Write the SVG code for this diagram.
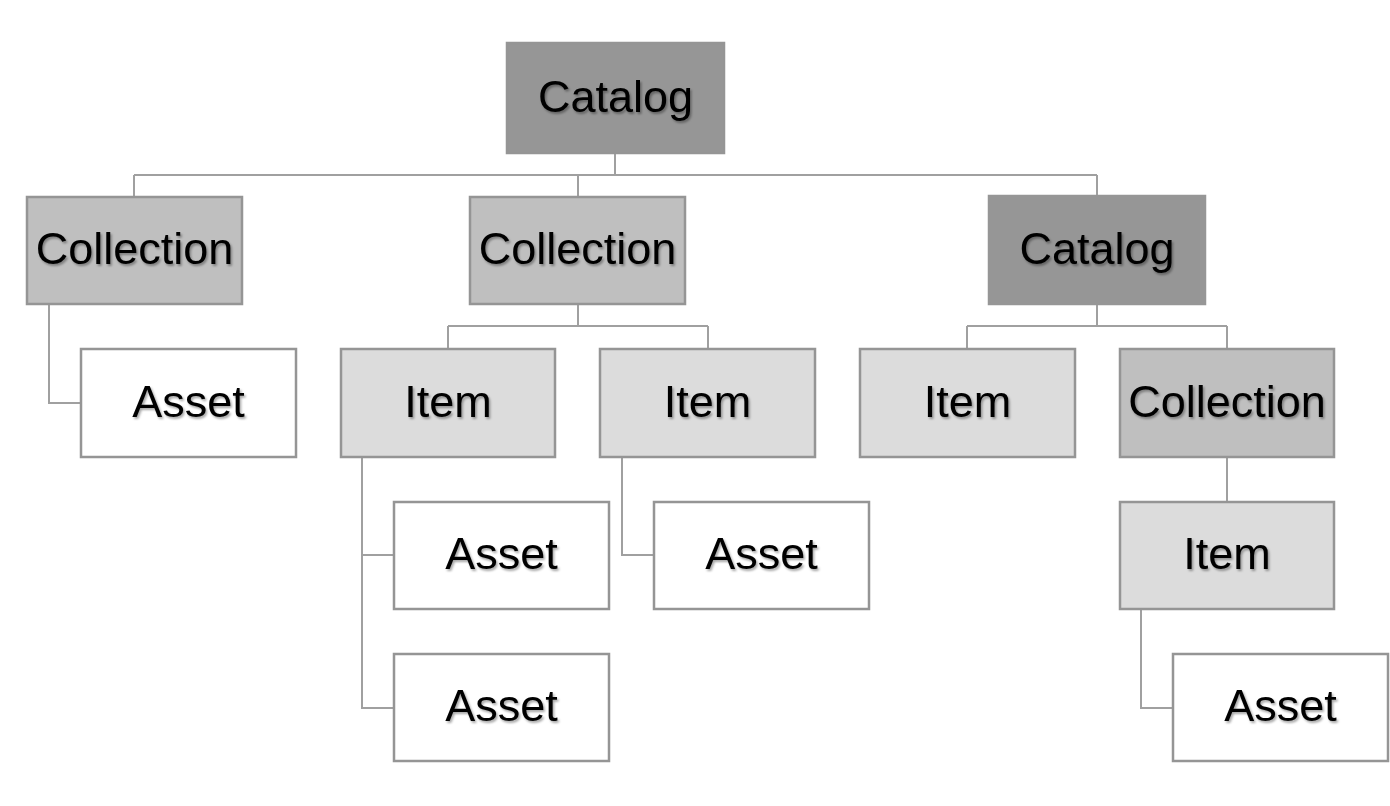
<svg xmlns="http://www.w3.org/2000/svg" width="1390" height="806" viewBox="0 0 1390 806">
<defs>
<filter id="ts" x="-10%" y="-20%" width="130%" height="160%">
<feDropShadow dx="1.5" dy="2" stdDeviation="1.2" flood-color="#000" flood-opacity="0.35"/>
</filter>
</defs>
<style>
.box{stroke:#959595;stroke-width:2.5}
.cat{fill:#969696}
.col{fill:#bfbfbf}
.item{fill:#dcdcdc}
.asset{fill:#ffffff}
.lbl{font-family:"Liberation Sans",Arial,sans-serif;font-size:45px;fill:#000;text-anchor:middle;filter:url(#ts)}
.conn{fill:none;stroke:#a0a0a0;stroke-width:2}
</style>
<rect width="1390" height="806" fill="#ffffff"/>
<g id="connectors" class="conn">
<path d="M615,153V175M134,175H1097M134,175V197M578,175V197M1097,175V196"/>
<path d="M49,304V403H81"/>
<path d="M578,304V326M448,326H708M448,326V349M708,326V349"/>
<path d="M1097,304V326M967,326H1227M967,326V349M1227,326V349"/>
<path d="M362,457V708H394M362,555H394"/>
<path d="M622,457V555H654"/>
<path d="M1227,457V502"/>
<path d="M1141,609V708H1173"/>
</g>
<g id="catalog-root"><rect class="box cat" x="507" y="43" width="217" height="110" stroke="#969696"/><text class="lbl" x="615.5" y="112">Catalog</text></g>
<g id="collection-1"><rect class="box col" x="27" y="197" width="215" height="107"/><text class="lbl" x="134.5" y="264">Collection</text></g>
<g id="asset-1"><rect class="box asset" x="81" y="349" width="215" height="108"/><text class="lbl" x="188.5" y="417">Asset</text></g>
<g id="collection-2"><rect class="box col" x="470" y="197" width="215" height="107"/><text class="lbl" x="577.5" y="264">Collection</text></g>
<g id="catalog-2"><rect class="box cat" x="989" y="196" width="216" height="108" style="stroke:#969696"/><text class="lbl" x="1097" y="264">Catalog</text></g>
<g id="item-1"><rect class="box item" x="341" y="349" width="214" height="108"/><text class="lbl" x="448" y="417">Item</text></g>
<g id="item-2"><rect class="box item" x="600" y="349" width="215" height="108"/><text class="lbl" x="707.5" y="417">Item</text></g>
<g id="item-3"><rect class="box item" x="860" y="349" width="215" height="108"/><text class="lbl" x="967.5" y="417">Item</text></g>
<g id="collection-3"><rect class="box col" x="1120" y="349" width="214" height="108"/><text class="lbl" x="1227" y="417">Collection</text></g>
<g id="asset-2"><rect class="box asset" x="394" y="502" width="215" height="107"/><text class="lbl" x="501.5" y="569">Asset</text></g>
<g id="asset-3"><rect class="box asset" x="654" y="502" width="215" height="107"/><text class="lbl" x="761.5" y="569">Asset</text></g>
<g id="item-4"><rect class="box item" x="1120" y="502" width="214" height="107"/><text class="lbl" x="1227" y="569">Item</text></g>
<g id="asset-4"><rect class="box asset" x="394" y="654" width="215" height="107"/><text class="lbl" x="501.5" y="721">Asset</text></g>
<g id="asset-5"><rect class="box asset" x="1173" y="654" width="215" height="107"/><text class="lbl" x="1280.5" y="721">Asset</text></g>
</svg>
